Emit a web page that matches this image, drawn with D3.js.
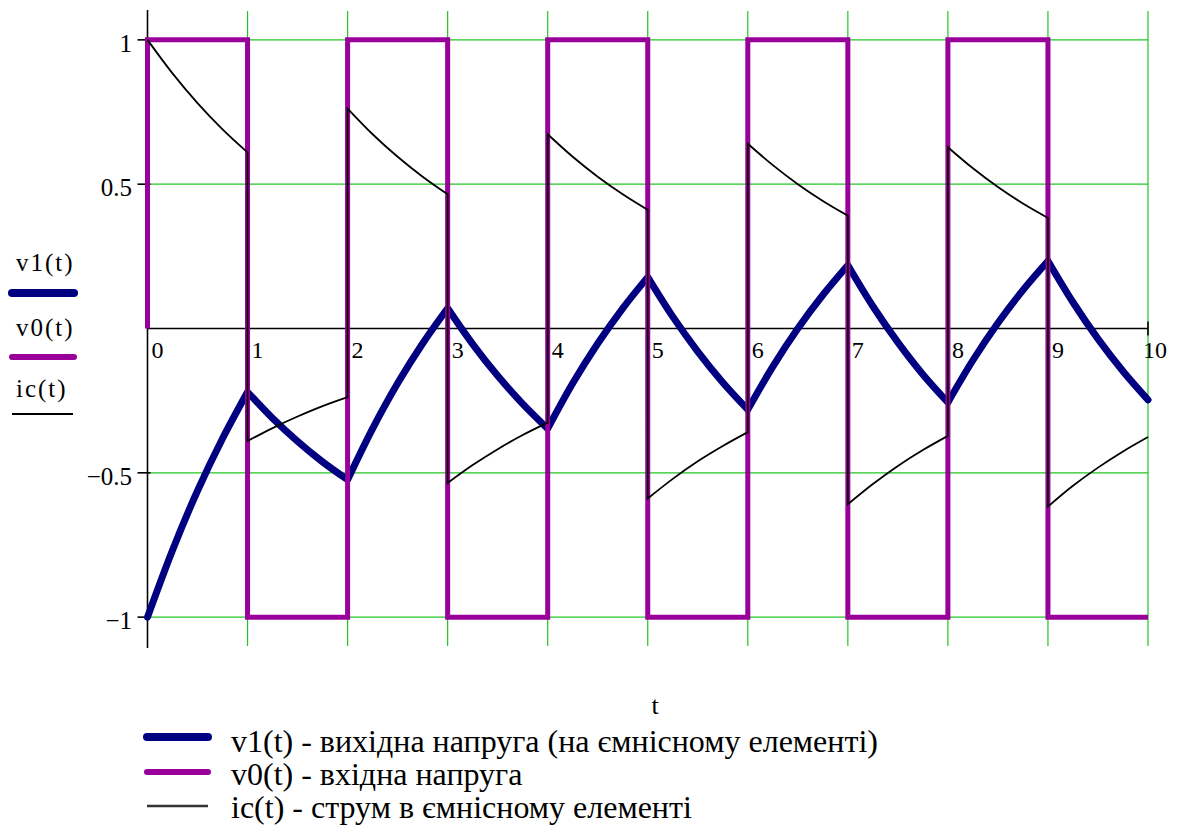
<!DOCTYPE html>
<html>
<head>
<meta charset="utf-8">
<script src="https://cdn.jsdelivr.net/npm/d3@7/dist/d3.min.js"></script>
<style>
  html, body { margin: 0; padding: 0; background: #fff; }
  svg { display: block; }
</style>
</head>
<body>
<svg id="chart" width="1177" height="826"></svg>
<script>
// Sample instants (s) for the response curves
const tSamples = [0, 0.25, 0.5, 0.75, 1, 1.25, 1.5, 1.75, 2, 2.25, 2.5, 2.75, 3, 3.25, 3.5, 3.75,
  4, 4.25, 4.5, 4.75, 5, 5.25, 5.5, 5.75, 6, 6.25, 6.5, 6.75, 7, 7.25, 7.5, 7.75,
  8, 8.25, 8.5, 8.75, 9, 9.25, 9.5, 9.75, 10];

// v1(t): capacitor voltage
const v1Values = [-1, -0.768, -0.562, -0.381, -0.220, -0.311, -0.391, -0.462, -0.524,
  -0.347, -0.190, -0.052, 0.070, -0.054, -0.164, -0.261, -0.347,
  -0.190, -0.052, 0.070, 0.178, 0.041, -0.080, -0.187, -0.281,
  -0.132, 0.000, 0.116, 0.219, 0.077, -0.048, -0.159, -0.256,
  -0.110, 0.019, 0.133, 0.234, 0.091, -0.036, -0.148, -0.247];

// v0(t): input square wave, one level per unit interval (starts from 0 at t = 0)
const v0Start = 0;
const v0Levels = [1, -1, 1, -1, 1, -1, 1, -1, 1, -1];

// ic(t): capacitor current, one row per unit interval (values at quarter steps)
const icSegments = [
  [1.000, 0.884, 0.781, 0.690, 0.610],
  [-0.390, -0.345, -0.305, -0.269, -0.238],
  [0.762, 0.673, 0.595, 0.526, 0.465],
  [-0.535, -0.473, -0.418, -0.369, -0.326],
  [0.673, 0.595, 0.526, 0.465, 0.411],
  [-0.589, -0.521, -0.460, -0.407, -0.359],
  [0.640, 0.566, 0.500, 0.442, 0.391],
  [-0.609, -0.539, -0.476, -0.421, -0.372],
  [0.628, 0.555, 0.490, 0.433, 0.383],
  [-0.617, -0.545, -0.482, -0.426, -0.376]
];

// Axis ticks and labels
const xTicks = [0, 1, 2, 3, 4, 5, 6, 7, 8, 9, 10];
const yTicks = [1, 0.5, -0.5, -1];
const yTickLabels = ["1", "0.5", "\u22120.5", "\u22121"];

const traceNames = ["v1(t)", "v0(t)", "ic(t)"];
const traceDescriptions = [
  "v1(t) - вихідна напруга (на ємнісному елементі)",
  "v0(t) - вхідна напруга",
  "ic(t) - струм в ємнісному елементі"
];
const xAxisTitle = "t";

const FONT = '"Liberation Serif", "Times New Roman", Tinos, serif';
const colors = { v1: "#000080", v0: "#990099", ic: "#000000", grid: "#22c422" };
const widths = { v1: 7, v0: 5, ic: 1.8 };

const svg = d3.select("#chart");
svg.append("rect").attr("width", 1177).attr("height", 826).attr("fill", "#fff");

const x = d3.scaleLinear().domain([0, 10]).range([147.5, 1148]);
const y = d3.scaleLinear().domain([-1.1, 1.1]).range([646, 11]);
const y0 = y(0);

function label(sel) {
  return sel.style("font-family", FONT).attr("fill", "#000");
}

// Grid
const grid = svg.append("g");
grid.selectAll("line.v").data(xTicks.filter(d => d > 0)).join("line")
  .attr("x1", d => x(d)).attr("x2", d => x(d))
  .attr("y1", y(1.1)).attr("y2", y(-1.1))
  .attr("stroke", colors.grid).attr("stroke-width", 1.2);
grid.selectAll("line.h").data(yTicks).join("line")
  .attr("x1", x(0)).attr("x2", x(10))
  .attr("y1", d => y(d)).attr("y2", d => y(d))
  .attr("stroke", colors.grid).attr("stroke-width", 1.2);

// Axes
const axes = svg.append("g").attr("stroke", "#000").attr("stroke-width", 1.6);
axes.append("line").attr("x1", x(0)).attr("x2", x(0)).attr("y1", y(1.1) - 1).attr("y2", y(-1.1) + 2);
axes.append("line").attr("x1", x(0)).attr("x2", x(10)).attr("y1", y0).attr("y2", y0);
axes.selectAll("line.xt").data(xTicks.filter(d => d > 0)).join("line")
  .attr("x1", d => x(d)).attr("x2", d => x(d))
  .attr("y1", y0 - 7).attr("y2", y0 + 7);
axes.selectAll("line.yt").data(yTicks).join("line")
  .attr("x1", x(0) - 10).attr("x2", x(0) + 3)
  .attr("y1", d => y(d)).attr("y2", d => y(d));

// Tick labels
svg.append("g").selectAll("text").data(xTicks).join("text")
  .call(label)
  .attr("x", (d, i) => i === xTicks.length - 1 ? x(d) - 5 : x(d) + 4)
  .attr("y", y0 + 29)
  .attr("font-size", 24)
  .text(d => d);
svg.append("g").selectAll("text").data(yTicks).join("text")
  .call(label)
  .attr("x", 132)
  .attr("y", d => y(d) + 12)
  .attr("text-anchor", "end")
  .attr("font-size", 25)
  .text((d, i) => yTickLabels[i]);

// Join per-interval curves into one continuous path
function segmentedPath(segments) {
  const gen = d3.line().x(p => x(p[0])).y(p => y(p[1])).curve(d3.curveCatmullRom.alpha(0.5));
  return segments.map((seg, i) => {
    const d = gen(seg);
    return i === 0 ? d : "L" + d.slice(1);
  }).join("");
}

// v1 trace
const v1Segments = v0Levels.map((_, k) =>
  tSamples.slice(k * 4, k * 4 + 5).map((t, j) => [t, v1Values[k * 4 + j]]));
svg.append("path")
  .attr("d", segmentedPath(v1Segments))
  .attr("fill", "none").attr("stroke", colors.v1).attr("stroke-width", widths.v1)
  .attr("stroke-linejoin", "round").attr("stroke-linecap", "round");

// v0 trace
const v0Points = [[0, v0Start]];
v0Levels.forEach((lv, k) => { v0Points.push([k, lv], [k + 1, lv]); });
svg.append("path")
  .attr("d", d3.line().x(p => x(p[0])).y(p => y(p[1]))(v0Points))
  .attr("fill", "none").attr("stroke", colors.v0).attr("stroke-width", widths.v0)
  .attr("stroke-linejoin", "miter");

// ic trace
const icSegPoints = icSegments.map((row, k) =>
  row.map((v, j) => [tSamples[k * 4 + j], v]));
svg.append("path")
  .attr("d", segmentedPath(icSegPoints))
  .attr("fill", "none").attr("stroke", colors.ic).attr("stroke-width", widths.ic)
  .attr("stroke-linejoin", "miter");

// Left-side trace legend
const keys = ["v1", "v0", "ic"];
const side = svg.append("g");
const sideTextY = [271, 336, 397];
const sideLineY = [293, 357, 414];
keys.forEach((k, i) => {
  side.append("text").call(label).attr("x", 16).attr("y", sideTextY[i])
    .attr("font-size", 25).attr("letter-spacing", 2).text(traceNames[i]);
  side.append("line")
    .attr("x1", 12).attr("x2", k === "ic" ? 73 : 74)
    .attr("y1", sideLineY[i]).attr("y2", sideLineY[i])
    .attr("stroke", colors[k]).attr("stroke-width", k === "ic" ? 1.8 : widths[k] + 1)
    .attr("stroke-linecap", k === "ic" ? "butt" : "round");
});

// X-axis title
svg.append("text").call(label).attr("x", 655).attr("y", 714).attr("text-anchor", "middle")
  .attr("font-size", 26).text(xAxisTitle);

// Bottom legend
const legend = svg.append("g");
const legLineY = [737, 772, 806];
const legTextY = [752, 785, 818];
keys.forEach((k, i) => {
  legend.append("line").attr("x1", 147).attr("x2", 208)
    .attr("y1", legLineY[i]).attr("y2", legLineY[i])
    .attr("stroke", k === "ic" ? "#333" : colors[k])
    .attr("stroke-width", k === "ic" ? 2.4 : widths[k] + 1)
    .attr("stroke-linecap", k === "ic" ? "butt" : "round");
  legend.append("text").call(label).attr("x", 231).attr("y", legTextY[i])
    .attr("font-size", 32).text(traceDescriptions[i]);
});
</script>
</body>
</html>
